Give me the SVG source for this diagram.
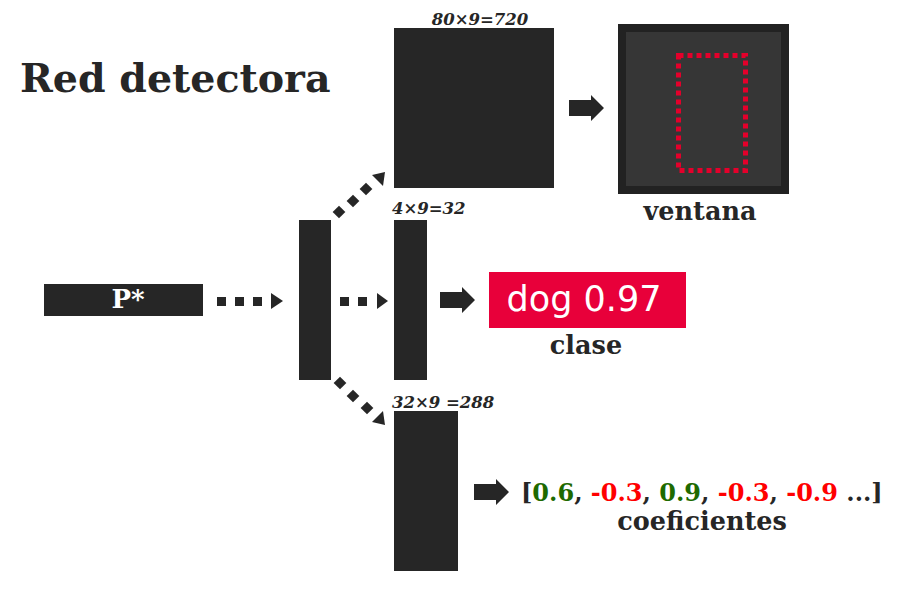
<svg xmlns="http://www.w3.org/2000/svg" width="900" height="613" viewBox="0 0 900 613">
<style>
.blk{fill:#262626}
.t{font-family:"DejaVu Serif",serif;font-weight:bold;fill:#262626}
.lbl{font-family:"DejaVu Serif",serif;font-weight:bold;font-style:italic;font-size:16.5px;fill:#262626}
.cap{font-family:"DejaVu Serif",serif;font-weight:bold;font-size:25.5px;fill:#262626;text-anchor:middle}
.g{fill:#1e6a00}
.r{fill:#ff0000}
</style>
<defs>
<path id="barrow" d="M0,-8 H22 V-13 L35,0 L22,13 V8 H0 Z" fill="#262626"/>
</defs>
<rect width="900" height="613" fill="#ffffff"/>
<text class="t" x="20" y="92" font-size="39.5">Red detectora</text>

<g id="pstar">
<rect class="blk" x="44" y="284" width="159" height="32"/>
<text x="128" y="308" font-family="DejaVu Serif,serif" font-weight="bold" font-size="26" fill="#ffffff" text-anchor="middle">P*</text>
</g>

<g id="hidden"><rect class="blk" x="299" y="220" width="32" height="160"/></g>

<g id="box720">
<rect class="blk" x="394" y="28" width="160" height="160"/>
<text class="lbl" x="480" y="25" text-anchor="middle">80×9=720</text>
</g>

<g id="box32">
<rect class="blk" x="394" y="220" width="33" height="160"/>
<text class="lbl" x="392" y="214">4×9=32</text>
</g>

<g id="box288">
<rect class="blk" x="394" y="411" width="64" height="160"/>
<text class="lbl" x="392" y="408">32×9 =288</text>
</g>

<g id="ventana">
<rect x="618" y="24" width="171" height="170" fill="#222222"/>
<rect x="626" y="32" width="155" height="154" fill="#363636"/>
<rect x="678.5" y="55.5" width="67" height="115" fill="none" stroke="#e4002b" stroke-width="5" stroke-dasharray="5 4"/>
<text class="cap" x="700" y="220">ventana</text>
</g>

<g id="clase">
<rect x="489" y="272" width="197" height="56" fill="#e8003a"/>
<text x="584" y="311" font-family="DejaVu Sans,sans-serif" font-size="35" fill="#ffffff" text-anchor="middle">dog 0.97</text>
<text class="cap" x="586" y="354">clase</text>
</g>

<g id="coeficientes">
<text class="t" x="521" y="501" font-size="24">[<tspan class="g">0.6</tspan>, <tspan class="r">-0.3</tspan>, <tspan class="g">0.9</tspan>, <tspan class="r">-0.3</tspan>, <tspan class="r">-0.9</tspan> ...]</text>
<text class="cap" x="702" y="530">coeficientes</text>
</g>

<g id="connectors" fill="#262626">
<rect x="217" y="297" width="9" height="9"/>
<rect x="235" y="297" width="9" height="9"/>
<rect x="253" y="297" width="9" height="9"/>
<path d="M271,293 L283,301 L271,309 Z"/>
<rect x="340" y="297" width="9" height="9"/>
<rect x="358" y="297" width="9" height="9"/>
<path d="M377,293 L388,301 L377,309 Z"/>
<rect x="-4.5" y="-4.5" width="9" height="9" transform="translate(339,212) rotate(45)"/>
<rect x="-4.5" y="-4.5" width="9" height="9" transform="translate(353,201) rotate(45)"/>
<rect x="-4.5" y="-4.5" width="9" height="9" transform="translate(366,189) rotate(45)"/>
<path d="M385,172 L372,175 L383,186 Z"/>
<rect x="-4.5" y="-4.5" width="9" height="9" transform="translate(340,383) rotate(45)"/>
<rect x="-4.5" y="-4.5" width="9" height="9" transform="translate(353,396) rotate(45)"/>
<rect x="-4.5" y="-4.5" width="9" height="9" transform="translate(367,408) rotate(45)"/>
<path d="M385,425 L372,422 L383,411 Z"/>
<use href="#barrow" x="569" y="108"/>
<use href="#barrow" x="440" y="300"/>
<use href="#barrow" x="474" y="492"/>
</g>
</svg>
